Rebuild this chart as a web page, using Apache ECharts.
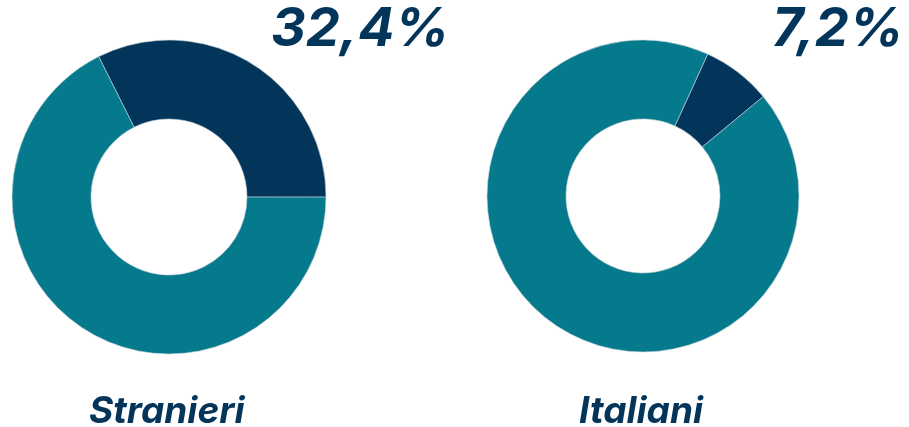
<!DOCTYPE html>
<html>
<head>
<meta charset="utf-8">
<script src="https://cdn.jsdelivr.net/npm/echarts@6/dist/echarts.min.js"></script>
<style>
html,body{margin:0;padding:0;background:#fff;}
#chart{width:909px;height:427px;}
</style>
</head>
<body>
<div id="chart"></div>
<script>
// dati
var groups = ['Stranieri', 'Italiani'];
var quota = [32.4, 7.2];
var resto = [67.6, 92.8];
var etichette = ['32,4%', '7,2%'];

var scuro = '#03355b';
var teal = '#067a8d';
var font = 'Inter';

var myChart = echarts.init(document.getElementById('chart'));

var option = {
    animation: false,
    title: [
        {text: etichette[0], left: 266, top: -2, textStyle: {fontFamily: font, fontStyle: 'italic', fontWeight: 'bold', fontSize: 54, color: scuro}},
        {text: etichette[1], left: 767, top: -2, textStyle: {fontFamily: font, fontStyle: 'italic', fontWeight: 'bold', fontSize: 54, color: scuro}},
        {text: groups[0], left: 84, top: 388, textStyle: {fontFamily: font, fontStyle: 'italic', fontWeight: 'bold', fontSize: 37, color: scuro}},
        {text: groups[1], left: 574, top: 388, textStyle: {fontFamily: font, fontStyle: 'italic', fontWeight: 'bold', fontSize: 37, color: scuro}}
    ],
    series: [
        {
            type: 'pie',
            center: [169, 197],
            radius: [78, 157],
            startAngle: 116.6,
            clockwise: true,
            label: {show: false},
            labelLine: {show: false},
            silent: true,
            itemStyle: {borderColor: '#c9d3da', borderWidth: 0.6},
            data: [
                {name: 'quota', value: quota[0], itemStyle: {color: scuro}},
                {name: 'resto', value: resto[0], itemStyle: {color: teal}}
            ]
        },
        {
            type: 'pie',
            center: [643, 196],
            radius: [77, 156],
            startAngle: 65.5,
            clockwise: true,
            label: {show: false},
            labelLine: {show: false},
            silent: true,
            itemStyle: {borderColor: '#c9d3da', borderWidth: 0.6},
            data: [
                {name: 'quota', value: quota[1], itemStyle: {color: scuro}},
                {name: 'resto', value: resto[1], itemStyle: {color: teal}}
            ]
        }
    ]
};
myChart.setOption(option);
window.addEventListener("resize", function () {
    myChart.resize();
});
</script>
</body>
</html>
